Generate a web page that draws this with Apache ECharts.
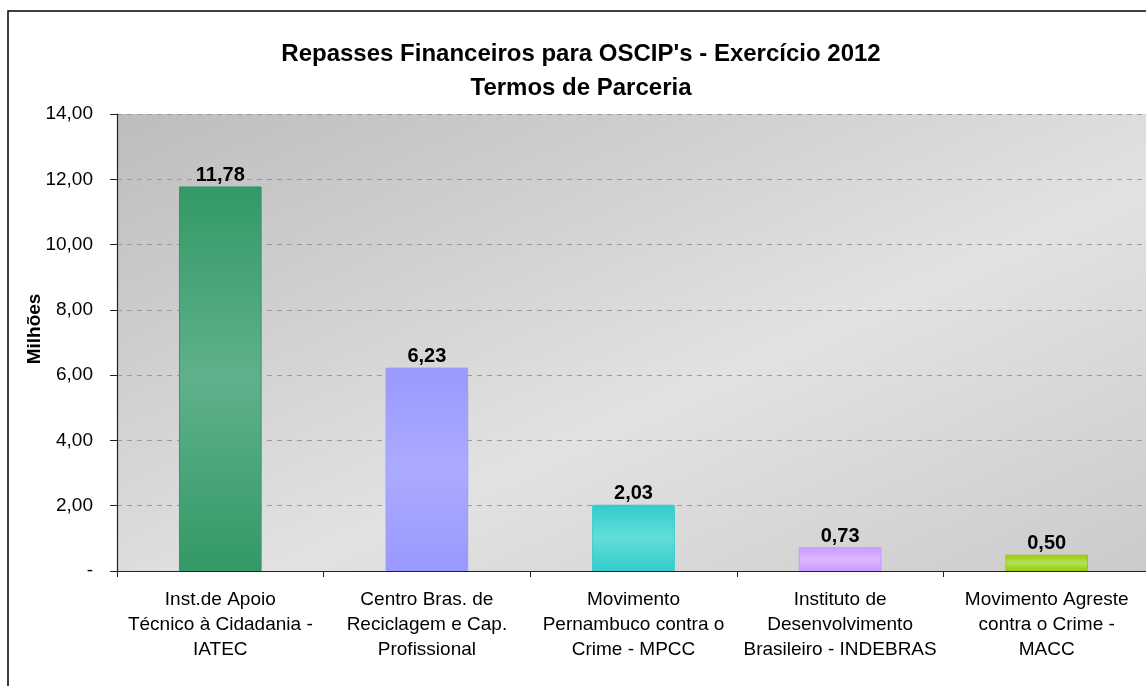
<!DOCTYPE html>
<html>
<head>
<meta charset="utf-8">
<script src="https://cdn.jsdelivr.net/npm/echarts@6/dist/echarts.min.js"></script>
<style>
  html, body { margin: 0; padding: 0; background: #fff; overflow: hidden; }
  #chart { width: 1150px; height: 686px; }
</style>
</head>
<body>
<div id="chart"></div>
<script>
const categories = [
  'Inst.de Apoio\nTécnico à Cidadania -\nIATEC',
  'Centro Bras. de\nReciclagem e Cap.\nProfissional',
  'Movimento\nPernambuco contra o\nCrime - MPCC',
  'Instituto de\nDesenvolvimento\nBrasileiro - INDEBRAS',
  'Movimento Agreste\ncontra o Crime -\nMACC'
]
const values = [11.78, 6.23, 2.03, 0.73, 0.50]
const darkColors = ['#339966', '#9999ff', '#33cccc', '#cc99ff', '#99cc00']
const lightColors = ['#5fb18b', '#ababff', '#62ddd9', '#dcb8ff', '#b4e05c']

const fmt = v => v === 0 ? '-' : v.toFixed(2).replace('.', ',')

const chart = echarts.init(document.getElementById('chart'))

const option = {
  animation: false,
  textStyle: { fontFamily: 'Liberation Sans, Arial, sans-serif' },
  title: {
    text: "Repasses Financeiros para OSCIP's - Exercício 2012\nTermos de Parceria",
    left: 576,
    top: 32,
    textAlign: 'center',
    textStyle: { fontSize: 24, fontWeight: 'bold', color: '#000', lineHeight: 34 }
  },
  graphic: [{
    type: 'rect',
    shape: { x: 8, y: 11, width: 1200, height: 720 },
    style: { fill: 'none', stroke: '#000', lineWidth: 1.5 },
    silent: true
  }, {
    // axis name placed by hand, it sits a bit above the middle
    type: 'text',
    x: 35, y: 329,
    rotation: Math.PI / 2,
    style: {
      text: 'Milhões',
      fontSize: 19, fontWeight: 'bold', fill: '#000',
      fontFamily: 'Liberation Sans, Arial, sans-serif',
      align: 'center', verticalAlign: 'middle'
    },
    silent: true
  }],
  grid: {
    left: 117, top: 114, right: 0, bottom: 115,
    show: true,
    borderWidth: 0,
    backgroundColor: {
      type: 'linear', x: 0, y: 0, x2: 0.382, y2: 1.94,
      colorStops: [
        { offset: 0, color: '#bdbdbd' },
        { offset: 0.5, color: '#e2e2e2' },
        { offset: 1, color: '#c2c2c2' }
      ]
    }
  },
  xAxis: {
    type: 'category',
    data: categories,
    axisLine: { lineStyle: { color: '#222', width: 1.2 } },
    axisTick: { show: true, length: 6, lineStyle: { color: '#222' } },
    axisLabel: { color: '#000', fontSize: 19, lineHeight: 25, margin: 16, interval: 0 }
  },
  yAxis: {
    type: 'value',
    min: 0, max: 14, interval: 2,
    axisLine: { show: true, lineStyle: { color: '#222', width: 1.2 } },
    axisTick: { show: true, length: 7, lineStyle: { color: '#222' } },
    axisLabel: { color: '#000', fontSize: 19, margin: 24, formatter: fmt },
    splitLine: { lineStyle: { color: '#9a9a9a', type: [5, 5] } }
  },
  series: [{
    type: 'bar',
    barWidth: '40%',
    data: values.map((v, i) => ({
      value: v,
      itemStyle: {
        color: {
          type: 'linear', x: 0, y: 0, x2: 0, y2: 1,
          colorStops: [
            { offset: 0, color: darkColors[i] },
            { offset: 0.5, color: lightColors[i] },
            { offset: 1, color: darkColors[i] }
          ]
        },
        borderColor: darkColors[i],
        borderWidth: 1
      }
    })),
    label: {
      show: true,
      position: 'top',
      distance: 1,
      color: '#000',
      fontSize: 20,
      fontWeight: 'bold',
      formatter: p => fmt(p.value)
    }
  }]
}

chart.setOption(option)
</script>
</body>
</html>
